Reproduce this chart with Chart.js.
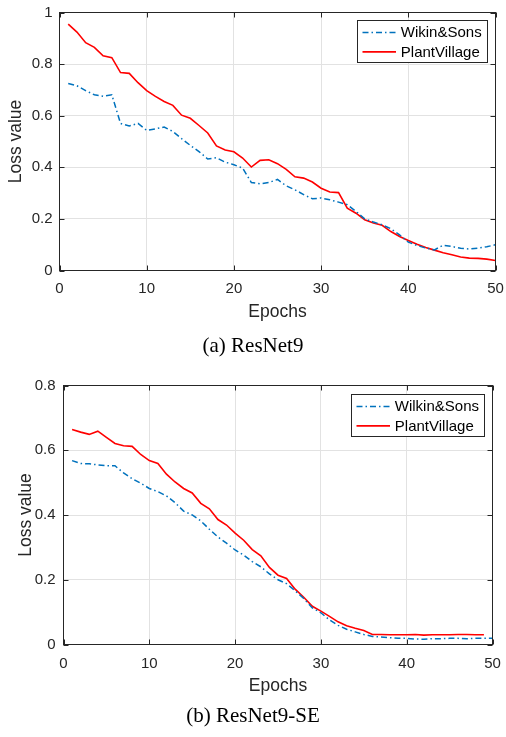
<!DOCTYPE html>
<html>
<head>
<meta charset="utf-8">
<script src="https://cdn.jsdelivr.net/npm/chart.js@4.4.1/dist/chart.umd.min.js"></script>
<style>
body{margin:0;background:#fff;width:506px;height:737px;position:relative;overflow:hidden}
canvas{position:absolute;left:0}
.cap{position:absolute;left:0;width:506px;text-align:center;font-family:'Liberation Serif','Times New Roman',serif;font-size:21px;line-height:24px;color:#000}
</style>
</head>
<body>
<canvas id="chartA" width="506" height="335" style="top:0"></canvas>
<div class="cap" style="top:333px">(a) ResNet9</div>
<canvas id="chartB" width="506" height="335" style="top:370px"></canvas>
<div class="cap" style="top:703px">(b) ResNet9-SE</div>
<script>
// epochs 1..50
const epochs = [1,2,3,4,5,6,7,8,9,10,11,12,13,14,15,16,17,18,19,20,21,22,23,24,25,
  26,27,28,29,30,31,32,33,34,35,36,37,38,39,40,41,42,43,44,45,46,47,48,49,50];

// (a) ResNet9
const resnet9Wilkin = [0.725,0.716,0.697,0.681,0.675,0.681,0.570,0.560,0.570,0.543,
  0.549,0.556,0.539,0.511,0.485,0.461,0.432,0.437,0.420,0.410,
  0.397,0.341,0.336,0.341,0.353,0.328,0.313,0.294,0.278,0.281,
  0.274,0.265,0.255,0.229,0.200,0.188,0.177,0.162,0.138,0.110,
  0.097,0.087,0.080,0.098,0.093,0.086,0.083,0.087,0.092,0.100];
const resnet9Plant = [0.955,0.924,0.883,0.865,0.832,0.825,0.767,0.764,0.728,0.697,
  0.675,0.655,0.640,0.602,0.590,0.562,0.533,0.483,0.467,0.460,
  0.436,0.401,0.427,0.429,0.414,0.392,0.363,0.358,0.343,0.319,
  0.304,0.302,0.242,0.222,0.197,0.184,0.175,0.151,0.132,0.116,
  0.102,0.089,0.079,0.069,0.061,0.052,0.048,0.047,0.044,0.039];

// (b) ResNet9-SE
const resnet9seWilkin = [0.568,0.559,0.558,0.555,0.552,0.552,0.530,0.512,0.498,0.482,
  0.472,0.459,0.438,0.412,0.400,0.382,0.356,0.332,0.313,0.292,
  0.276,0.256,0.240,0.218,0.200,0.188,0.166,0.142,0.113,0.098,
  0.076,0.059,0.047,0.039,0.031,0.025,0.023,0.021,0.019,0.019,
  0.017,0.016,0.018,0.018,0.019,0.019,0.018,0.019,0.019,0.019];
const resnet9sePlant = [0.664,0.656,0.649,0.659,0.640,0.621,0.614,0.612,0.587,0.568,
  0.559,0.526,0.502,0.482,0.468,0.436,0.419,0.386,0.369,0.344,
  0.322,0.293,0.274,0.238,0.214,0.204,0.171,0.146,0.118,0.103,
  0.087,0.070,0.058,0.050,0.043,0.031,0.031,0.030,0.030,0.030,
  0.031,0.029,0.030,0.030,0.030,0.031,0.031,0.030,0.030];

const xTicks = [0,10,20,30,40,50];
const yTicksA = [0,0.2,0.4,0.6,0.8,1];
const yTicksB = [0,0.2,0.4,0.6,0.8];

const FONT = "'Liberation Sans', Arial, Helvetica, sans-serif";
const AXIS = '#262626';
const BLUE = '#0072BD';
const RED = '#FF0000';

// caja estilo MATLAB: borde, ticks hacia dentro y leyenda con recuadro
const boxPlugin = {
  id: 'matlabBox',
  afterDraw(chart, args, opts) {
    const {ctx, chartArea: {left, top, right, bottom}, scales: {x, y}} = chart;
    ctx.save();
    ctx.strokeStyle = AXIS;
    ctx.lineWidth = 1;
    ctx.setLineDash([]);
    ctx.strokeRect(left, top, right - left, bottom - top);
    ctx.beginPath();
    x.ticks.forEach(t => {
      const px = Math.round(x.getPixelForValue(t.value)) + 0.5;
      ctx.moveTo(px, bottom); ctx.lineTo(px, bottom - 5);
      ctx.moveTo(px, top); ctx.lineTo(px, top + 5);
    });
    y.ticks.forEach(t => {
      const py = Math.round(y.getPixelForValue(t.value)) + 0.5;
      ctx.moveTo(left, py); ctx.lineTo(left + 5, py);
      ctx.moveTo(right, py); ctx.lineTo(right - 5, py);
    });
    ctx.stroke();

    // leyenda
    ctx.font = '15px ' + FONT;
    const sets = chart.data.datasets;
    const textW = Math.max(...sets.map(d => ctx.measureText(d.label).width));
    const w = Math.round(43.3 + textW + 6);
    const h = 42;
    const bx = Math.round(right - opts.right - w) + 0.5;
    const by = Math.round(top + opts.top) + 0.5;
    ctx.fillStyle = '#fff';
    ctx.fillRect(bx, by, w, h);
    ctx.strokeStyle = AXIS;
    ctx.strokeRect(bx, by, w, h);
    sets.forEach((d, i) => {
      const cy = by + 12 + i * 19.4;
      ctx.beginPath();
      ctx.strokeStyle = d.borderColor;
      ctx.lineWidth = d.borderWidth;
      ctx.setLineDash(d.borderDash || []);
      ctx.moveTo(bx + 5, cy);
      ctx.lineTo(bx + 38.5, cy);
      ctx.stroke();
      ctx.setLineDash([]);
      ctx.fillStyle = '#000';
      ctx.textBaseline = 'middle';
      ctx.textAlign = 'left';
      ctx.fillText(d.label, bx + 43.3, cy + 0.5);
    });
    ctx.restore();
  }
};

function makeChart(id, wilkinLabel, wilkin, plant, yTicks, yMax, g) {
  const ctx = document.getElementById(id).getContext('2d');
  return new Chart(ctx, {
    type: 'line',
    data: {
      datasets: [
        {
          label: wilkinLabel,
          data: wilkin.map((v, i) => ({x: epochs[i], y: v})),
          borderColor: BLUE,
          borderWidth: 1.5,
          borderDash: [6, 3, 1.5, 3],
          pointRadius: 0,
          tension: 0
        },
        {
          label: 'PlantVillage',
          data: plant.map((v, i) => ({x: epochs[i], y: v})),
          borderColor: RED,
          borderWidth: 1.6,
          pointRadius: 0,
          tension: 0
        }
      ]
    },
    options: {
      responsive: false,
      animation: false,
      devicePixelRatio: 1,
      layout: {padding: {left: 0, right: g.padRight, top: g.padTop, bottom: 0}},
      plugins: {
        legend: {display: false},
        tooltip: {enabled: false},
        matlabBox: {right: g.legRight, top: g.legTop}
      },
      scales: {
        x: {
          type: 'linear',
          min: 0,
          max: 50,
          afterBuildTicks: s => { s.ticks = xTicks.map(v => ({value: v})); },
          afterFit: s => { s.height = g.xH; s.paddingLeft = 0; s.paddingRight = 0; },
          grid: {color: '#e2e2e2', drawTicks: false},
          border: {display: false},
          ticks: {font: {size: 15, family: FONT}, color: AXIS, padding: g.xTickPad, maxRotation: 0, autoSkip: false},
          title: {display: true, text: 'Epochs', color: AXIS, font: {size: 17.5, family: FONT}, padding: {top: 0, bottom: g.xTitlePad}}
        },
        y: {
          min: 0,
          max: yMax,
          afterBuildTicks: s => { s.ticks = yTicks.map(v => ({value: v})); },
          afterFit: s => { s.width = g.yW; s.paddingTop = 0; s.paddingBottom = 0; },
          grid: {color: '#e2e2e2', drawTicks: false},
          border: {display: false},
          ticks: {font: {size: 15, family: FONT}, color: AXIS, padding: g.yTickPad, callback: v => String(v)},
          title: {display: true, text: 'Loss value', color: AXIS, font: {size: 17.5, family: FONT}, padding: {top: g.yTitlePad, bottom: 0}}
        }
      }
    },
    plugins: [boxPlugin]
  });
}

makeChart('chartA', 'Wikin&Sons', resnet9Wilkin, resnet9Plant, yTicksA, 1, {
  yW: 59.5, padRight: 10.5, padTop: 12.5, xH: 64.5,
  yTickPad: 7, yTitlePad: 6, xTickPad: 9.5, xTitlePad: 12,
  legRight: 9, legTop: 7.5
});

makeChart('chartB', 'Wilkin&Sons', resnet9seWilkin, resnet9sePlant, yTicksB, 0.8, {
  yW: 63.5, padRight: 13.5, padTop: 15.5, xH: 60.5,
  yTickPad: 8, yTitlePad: 16, xTickPad: 10.5, xTitlePad: 8,
  legRight: 8.5, legTop: 8.5
});
</script>
</body>
</html>
